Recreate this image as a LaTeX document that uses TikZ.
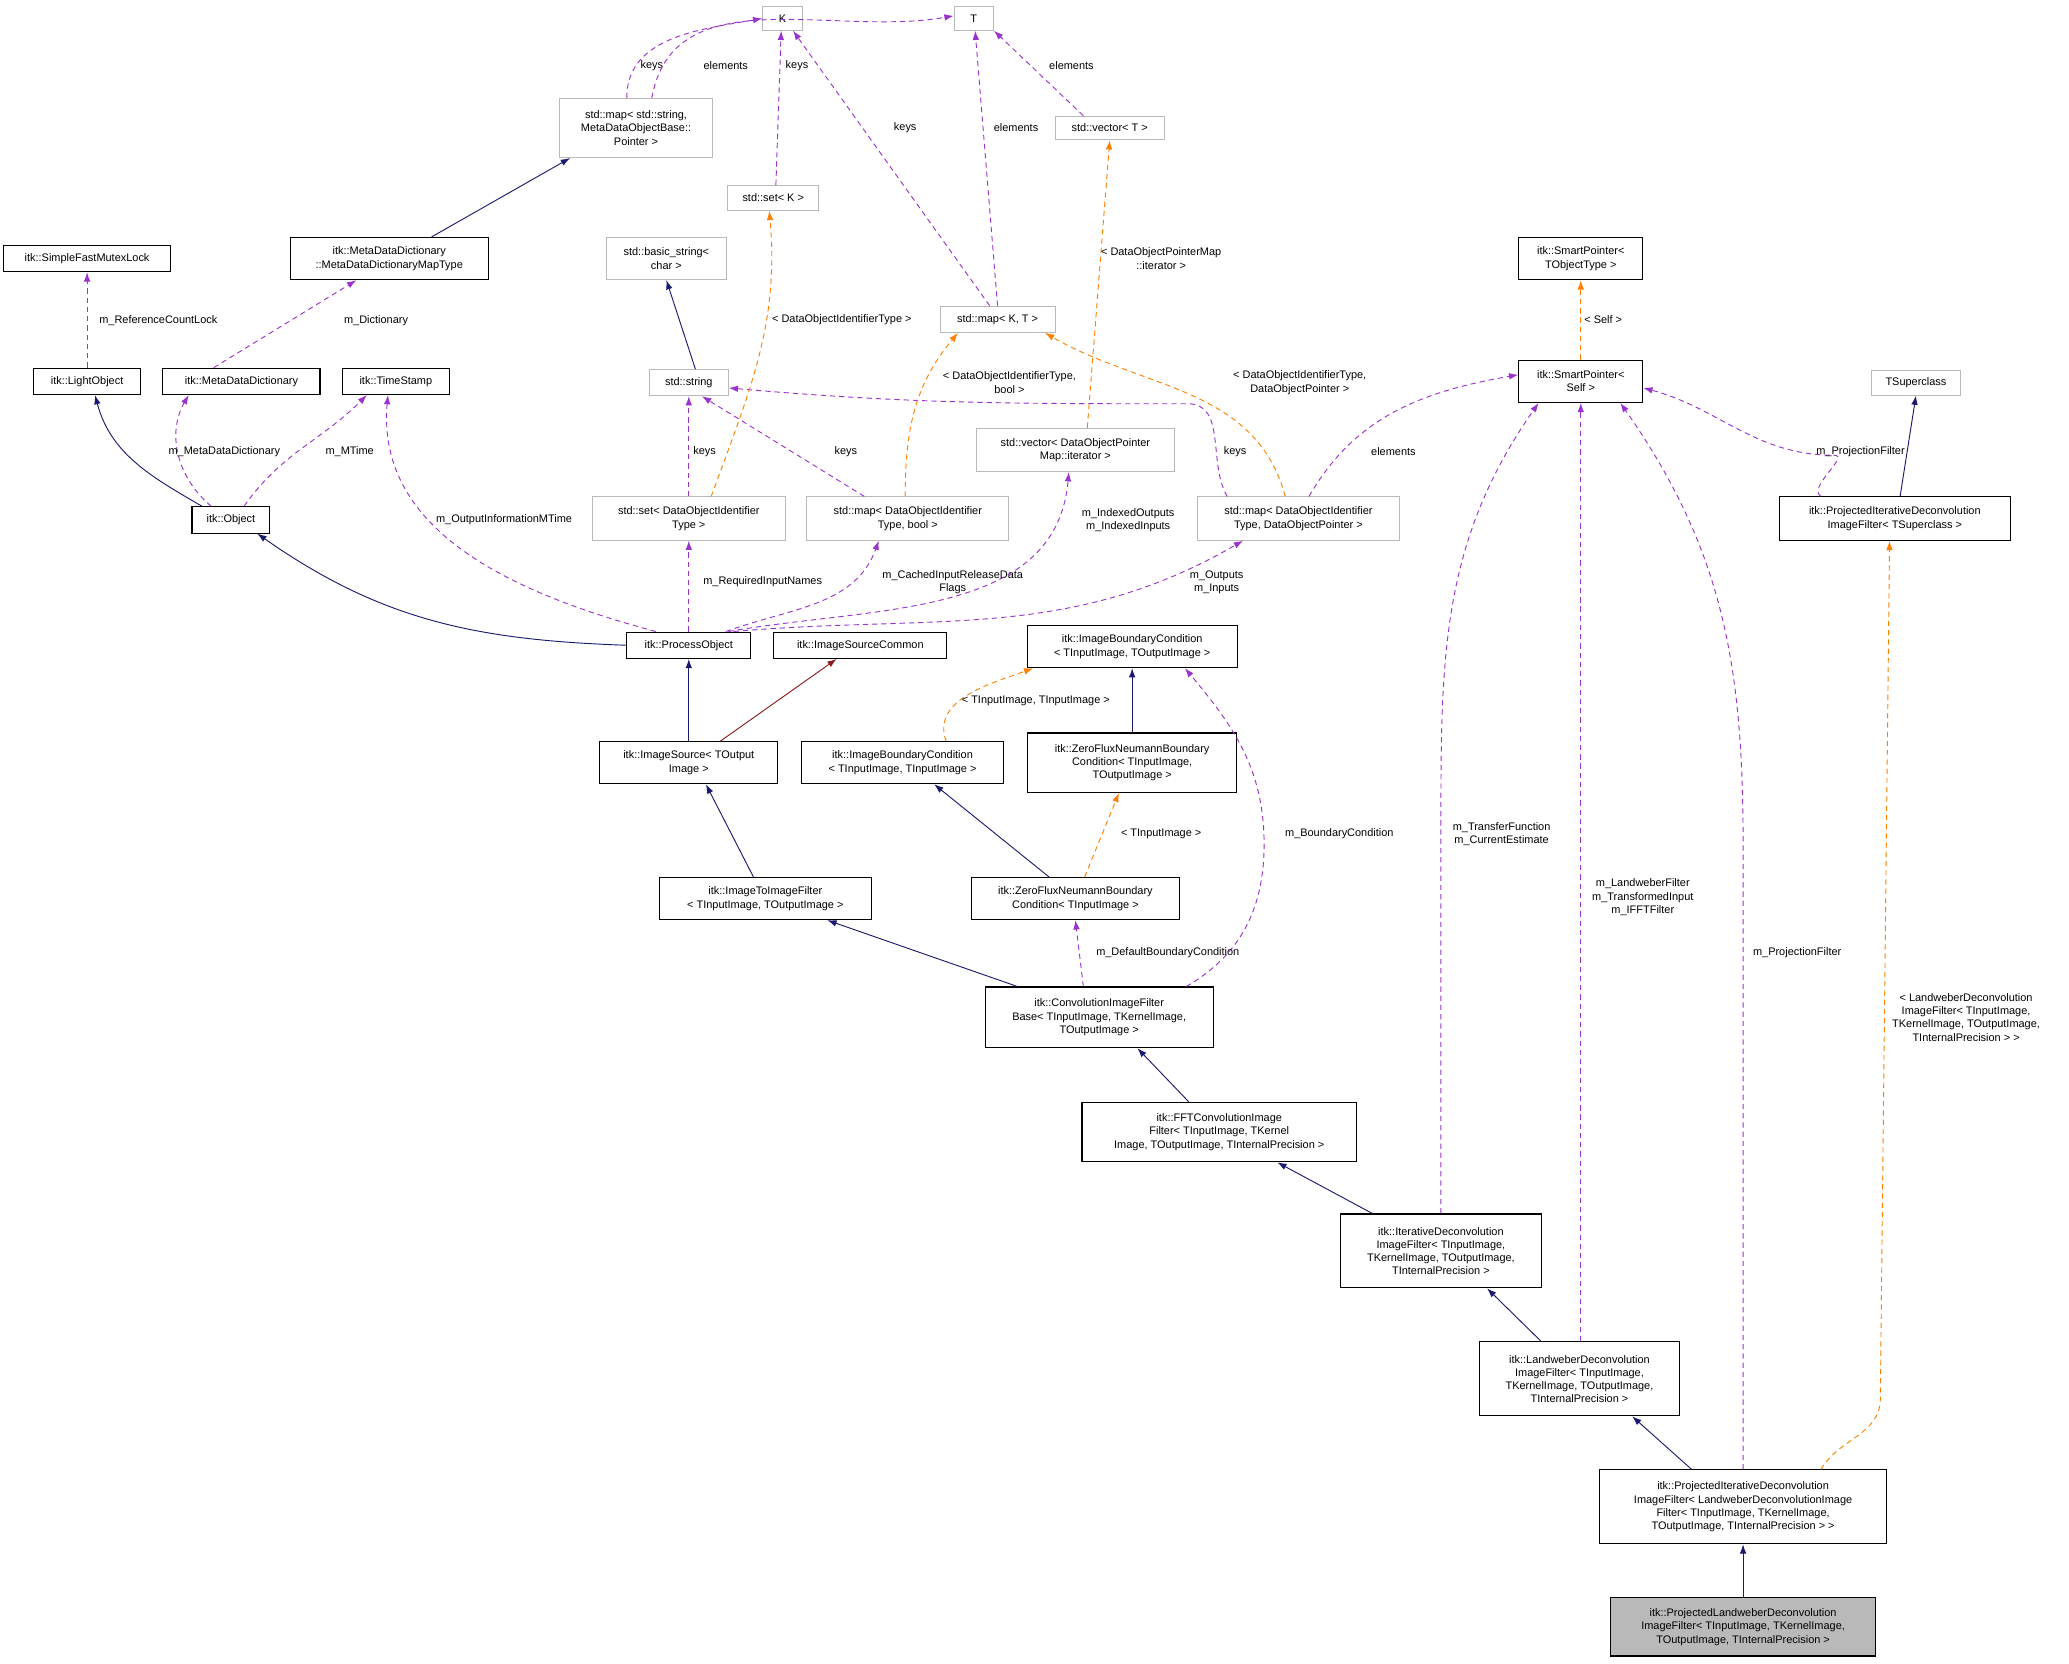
\documentclass[tikz,border=0pt]{standalone}
\usepackage{fontspec}
\setmainfont{Liberation Sans}
\usetikzlibrary{arrows.meta,calc}
\begin{document}
\begin{tikzpicture}[x=1pt,y=-1pt,
  every node/.style={font=\fontsize{8.3}{10}\selectfont,align=center,inner sep=1pt},
  bbox/.style={draw=black,line width=0.8pt},
  gbox/.style={draw=gray!55,line width=0.6pt},
  lbl/.style={},
  nav/.style={draw=blue!20!black!70!blue,color={rgb,255:red,25;green,25;blue,112},line width=0.7pt,-{Latex[length=7pt,width=5pt]}},
  red/.style={color={rgb,255:red,139;green,26;blue,26},line width=0.7pt,-{Latex[length=7pt,width=5pt]}},
  pur/.style={color={rgb,255:red,154;green,50;blue,205},dashed,dash pattern=on 4pt off 3pt,line width=0.7pt,-{Latex[length=7pt,width=5pt]}},
  org/.style={color=orange,dashed,dash pattern=on 4pt off 3pt,line width=0.7pt,-{Latex[length=7pt,width=5pt]}}]
\useasboundingbox (0,0) rectangle (1568,1261);
% nodes
\node[gbox,minimum width=30,minimum height=18] (K) at (593,14) {K};
\node[gbox,minimum width=30,minimum height=18] (T) at (738,14) {T};
\node[gbox,minimum width=116,minimum height=45] (map1) at (482,97) {std::map\textless{} std::string,\\MetaDataObjectBase::\\Pointer \textgreater};
\node[gbox,minimum width=83,minimum height=18] (vecT) at (841,97) {std::vector\textless{} T \textgreater};
\node[gbox,minimum width=69,minimum height=19] (setK) at (586,150) {std::set\textless{} K \textgreater};
\node[gbox,minimum width=91,minimum height=32] (bstr) at (505,196) {std::basic\_string\textless\\char \textgreater};
\node[gbox,minimum width=87,minimum height=20] (mapKT) at (756,242) {std::map\textless{} K, T \textgreater};
\node[gbox,minimum width=60,minimum height=20] (str) at (522,290) {std::string};
\node[gbox,minimum width=150,minimum height=33] (vecDOP) at (815,341) {std::vector\textless{} DataObjectPointer\\Map::iterator \textgreater};
\node[gbox,minimum width=146,minimum height=33] (setDOI) at (522,393) {std::set\textless{} DataObjectIdentifier\\Type \textgreater};
\node[gbox,minimum width=153,minimum height=33] (mapDOIb) at (688,393) {std::map\textless{} DataObjectIdentifier\\Type, bool \textgreater};
\node[gbox,minimum width=153,minimum height=33] (mapDOIp) at (984,393) {std::map\textless{} DataObjectIdentifier\\Type, DataObjectPointer \textgreater};
\node[gbox,minimum width=68,minimum height=19] (TS) at (1452,290) {TSuperclass};
\node[bbox,minimum width=127,minimum height=20] (mutex) at (66,196) {itk::SimpleFastMutexLock};
\node[bbox,minimum width=150,minimum height=32] (mddmap) at (295,196) {itk::MetaDataDictionary\\::MetaDataDictionaryMapType};
\node[bbox,minimum width=81,minimum height=20] (light) at (66,289) {itk::LightObject};
\node[bbox,minimum width=119,minimum height=20] (mdd) at (183,289) {itk::MetaDataDictionary};
\node[bbox,minimum width=81,minimum height=20] (ts) at (300,289) {itk::TimeStamp};
\node[bbox,minimum width=59,minimum height=20] (obj) at (175,394) {itk::Object};
\node[bbox,minimum width=94,minimum height=20] (po) at (522,489) {itk::ProcessObject};
\node[bbox,minimum width=131,minimum height=20] (isc) at (652,489) {itk::ImageSourceCommon};
\node[bbox,minimum width=159,minimum height=32] (ibc1) at (858,490) {itk::ImageBoundaryCondition\\\textless{} TInputImage, TOutputImage \textgreater};
\node[bbox,minimum width=94,minimum height=32] (smT) at (1198,196) {itk::SmartPointer\textless\\TObjectType \textgreater};
\node[bbox,minimum width=94,minimum height=32] (smS) at (1198,289) {itk::SmartPointer\textless\\Self \textgreater};
\node[bbox,minimum width=175,minimum height=33] (pidTS) at (1436,393) {itk::ProjectedIterativeDeconvolution\\ImageFilter\textless{} TSuperclass \textgreater};
\node[bbox,minimum width=135,minimum height=32] (is) at (522,578) {itk::ImageSource\textless{} TOutput\\Image \textgreater};
\node[bbox,minimum width=153,minimum height=32] (ibc2) at (684,578) {itk::ImageBoundaryCondition\\\textless{} TInputImage, TInputImage \textgreater};
\node[bbox,minimum width=158,minimum height=45] (zf1) at (858,578) {itk::ZeroFluxNeumannBoundary\\Condition\textless{} TInputImage,\\TOutputImage \textgreater};
\node[bbox,minimum width=161,minimum height=32] (itif) at (580,681) {itk::ImageToImageFilter\\\textless{} TInputImage, TOutputImage \textgreater};
\node[bbox,minimum width=158,minimum height=32] (zf2) at (815,681) {itk::ZeroFluxNeumannBoundary\\Condition\textless{} TInputImage \textgreater};
\node[bbox,minimum width=173,minimum height=46] (conv) at (833,771) {itk::ConvolutionImageFilter\\Base\textless{} TInputImage, TKernelImage,\\TOutputImage \textgreater};
\node[bbox,minimum width=208,minimum height=45] (fft) at (924,858) {itk::FFTConvolutionImage\\Filter\textless{} TInputImage, TKernel\\Image, TOutputImage, TInternalPrecision \textgreater};
\node[bbox,minimum width=152,minimum height=56] (iter) at (1092,948) {itk::IterativeDeconvolution\\ImageFilter\textless{} TInputImage,\\TKernelImage, TOutputImage,\\TInternalPrecision \textgreater};
\node[bbox,minimum width=152,minimum height=56] (lw) at (1197,1045) {itk::LandweberDeconvolution\\ImageFilter\textless{} TInputImage,\\TKernelImage, TOutputImage,\\TInternalPrecision \textgreater};
\node[bbox,minimum width=218,minimum height=56] (pidLW) at (1321,1142) {itk::ProjectedIterativeDeconvolution\\ImageFilter\textless{} LandweberDeconvolutionImage\\Filter\textless{} TInputImage, TKernelImage,\\TOutputImage, TInternalPrecision \textgreater{} \textgreater};
\node[bbox,fill=gray!55,minimum width=201,minimum height=44] (fin) at (1321,1233) {itk::ProjectedLandweberDeconvolution\\ImageFilter\textless{} TInputImage, TKernelImage,\\TOutputImage, TInternalPrecision \textgreater};
% navy inheritance
\draw[nav] ([xshift=32]mddmap.north) -- ([xshift=-50]map1.south);
\draw[nav] ([xshift=5]str.north) -- (bstr.south);
\draw[nav] ([xshift=-22]obj.north) to[out=150,in=-75] ([xshift=6]light.south);
\draw[nav] (po.west) to[out=178,in=-35] ([xshift=20]obj.south);
\draw[nav] (is.north) -- (po.south);
\draw[nav] ([xshift=-9]itif.north) -- ([xshift=13]is.south);
\draw[nav] ([xshift=-20]zf2.north) -- ([xshift=24]ibc2.south);
\draw[nav] ([xshift=-62]conv.north) -- ([xshift=47]itif.south);
\draw[nav] (zf1.north) -- (ibc1.south);
\draw[nav] ([xshift=-23]fft.north) -- ([xshift=29]conv.south);
\draw[nav] ([xshift=-52]iter.north) -- ([xshift=44]fft.south);
\draw[nav] ([xshift=-29]lw.north) -- ([xshift=35]iter.south);
\draw[nav] ([xshift=-39]pidLW.north) -- ([xshift=40]lw.south);
\draw[nav] (fin.north) -- (pidLW.south);
\draw[nav] ([xshift=4]pidTS.north) -- (TS.south);
\draw[red] ([xshift=24]is.north) -- ([xshift=-18]isc.south);
% purple usage
\draw[pur] ([xshift=-7]map1.north) to[out=90,in=190] (K.west) ;
\node[lbl] (l1) at (494,50) {keys};
\draw[pur] ([xshift=12]map1.north) to[out=80,in=190] ([yshift=2]T.west);
\node[lbl] (l2) at (550,50) {elements};
\draw[pur] ([xshift=2]setK.north) -- ([xshift=-1]K.south);
\node[lbl] (l3) at (604,50) {keys};
\draw[pur] ([xshift=-6]mapKT.north) -- ([xshift=8]K.south);
\node[lbl] (l4) at (686,97) {keys};
\draw[pur] ([xshift=0]mapKT.north) -- ([xshift=1]T.south);
\node[lbl] (l5) at (770,97) {elements};
\draw[pur] ([xshift=-20]vecT.north) -- (T.south east);
\node[lbl] (l6) at (812,50) {elements};
\draw[pur] (light.north) -- (mutex.south);
\node[lbl] (l7) at (120,243) {m\_ReferenceCountLock};
\draw[pur] ([xshift=-21]mdd.north) -- ([xshift=-25]mddmap.south);
\node[lbl] (l8) at (285,243) {m\_Dictionary};
\draw[pur] ([xshift=-15]obj.north) to[out=140,in=-120] ([xshift=-40]mdd.south);
\node[lbl] (l9) at (170,342) {m\_MetaDataDictionary};
\draw[pur] ([xshift=10]obj.north) to[out=55,in=-135] ([xshift=-22]ts.south);
\node[lbl] (l10) at (265,342) {m\_MTime};
\draw[pur] ([xshift=-25]po.north) to[out=165,in=-95] ([xshift=-6]ts.south);
\node[lbl] (l11) at (382,394) {m\_OutputInformationMTime};
\draw[pur] (setDOI.north) -- (str.south);
\node[lbl] (l12) at (534,342) {keys};
\draw[pur] ([xshift=-33]mapDOIb.north) -- ([xshift=10]str.south);
\node[lbl] (l13) at (641,342) {keys};
\draw[pur] ([xshift=-54]mapDOIp.north) to[out=120,in=0] (900,306) to[out=180,in=-5] ([yshift=-4]str.east);
\node[lbl] (l14) at (936,342) {keys};
\draw[pur] (po.north) -- (setDOI.south);
\node[lbl] (l15) at (578,441) {m\_RequiredInputNames};
\draw[pur] ([xshift=28]po.north) to[out=20,in=-110] ([xshift=-22]mapDOIb.south);
\node[lbl] (l16) at (722,441) {m\_CachedInputReleaseData\\Flags};
\draw[pur] ([xshift=30]po.north) to[out=10,in=-95] ([xshift=-5]vecDOP.south);
\node[lbl] (l17) at (855,394) {m\_IndexedOutputs\\m\_IndexedInputs};
\draw[pur] ([xshift=34]po.north) to[out=5,in=-150] ([xshift=-42]mapDOIp.south);
\node[lbl] (l18) at (922,441) {m\_Outputs\\m\_Inputs};
\draw[pur] ([xshift=8]mapDOIp.north) to[out=60,in=190] ([yshift=5]smS.west);
\node[lbl] (l19) at (1056,342) {elements};
\draw[pur] ([xshift=66]conv.north) to[out=30,in=-90] (958,640) to[out=90,in=-50] ([xshift=40]ibc1.south);
\node[lbl] (l20) at (1015,632) {m\_BoundaryCondition};
\draw[pur] ([xshift=-12]conv.north) -- (zf2.south);
\node[lbl] (l21) at (885,722) {m\_DefaultBoundaryCondition};
\draw[pur] (iter.north) -- (1092,630) to[out=90,in=-125] ([xshift=-32]smS.south);
\node[lbl] (l22) at (1138,632) {m\_TransferFunction\\m\_CurrentEstimate};
\draw[pur] ([xshift=1]lw.north) -- (smS.south);
\node[lbl] (l23) at (1245,680) {m\_LandweberFilter\\m\_TransformedInput\\m\_IFFTFilter};
\draw[pur] (pidLW.north) -- (1321,640) to[out=90,in=-55] ([xshift=30]smS.south);
\node[lbl] (l24) at (1362,722) {m\_ProjectionFilter};
\draw[pur] ([xshift=-56]pidTS.north) to[out=150,in=0] (1390,345) to[out=180,in=-15] ([yshift=-5]smS.east);
\node[lbl] (l25) at (1410,342) {m\_ProjectionFilter};
% orange templates
\draw[org] ([xshift=17]setDOI.north) to[out=70,in=-85] ([xshift=-3]setK.south);
\node[lbl] (l26) at (638,242) {\textless{} DataObjectIdentifierType \textgreater};
\draw[org] ([xshift=-2]mapDOIb.north) to[out=90,in=-130] ([xshift=-30]mapKT.south);
\node[lbl] (l27) at (765,290) {\textless{} DataObjectIdentifierType,\\bool \textgreater};
\draw[org] ([xshift=-10]mapDOIp.north) to[out=105,in=-30] ([xshift=36]mapKT.south);
\node[lbl] (l28) at (985,290) {\textless{} DataObjectIdentifierType,\\DataObjectPointer \textgreater};
\draw[org] ([xshift=9]vecDOP.north) -- (vecT.south);
\node[lbl] (l29) at (880,196) {\textless{} DataObjectPointerMap\\::iterator \textgreater};
\draw[org] (smS.north) -- (smT.south);
\node[lbl] (l30) at (1215,242) {\textless{} Self \textgreater};
\draw[org] ([xshift=33]ibc2.north) to[out=110,in=200] ([xshift=-75]ibc1.south);
\node[lbl] (l31) at (785,531) {\textless{} TInputImage, TInputImage \textgreater};
\draw[org] ([xshift=7]zf2.north) -- ([xshift=-10]zf1.south);
\node[lbl] (l32) at (880,632) {\textless{} TInputImage \textgreater};
\draw[org] ([xshift=59]pidLW.north) to[out=60,in=-90] (1425,1060) -- ([xshift=-4]pidTS.south);
\node[lbl] (l33) at (1490,771) {\textless{} LandweberDeconvolution\\ImageFilter\textless{} TInputImage,\\TKernelImage, TOutputImage,\\TInternalPrecision \textgreater{} \textgreater};
\end{tikzpicture}
\end{document}
